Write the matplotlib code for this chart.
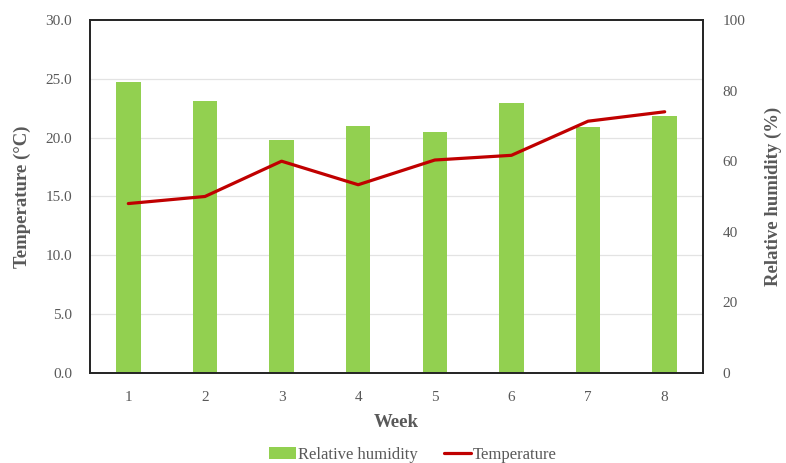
import numpy as np
import matplotlib.pyplot as plt
from matplotlib.ticker import FixedLocator

plt.rcParams['font.family'] = ['Liberation Serif', 'DejaVu Serif']

# donnees
weeks = [1, 2, 3, 4, 5, 6, 7, 8]
humidity = [82.3, 77.0, 65.9, 70.0, 68.3, 76.6, 69.6, 72.8]
temperature = [14.4, 15.0, 18.0, 16.0, 18.1, 18.5, 21.4, 22.2]
temp_ticks = [0, 5, 10, 15, 20, 25, 30]
hum_ticks = [0, 20, 40, 60, 80, 100]

txt = '#595959'
green = '#92D050'
red = '#C00000'

fig = plt.figure(figsize=(7.86, 4.63), dpi=100)
ax = fig.add_axes([0.1145, 0.1944, 0.7799, 0.7624])
ax2 = ax.twinx()

# barres (humidite) derriere, ligne (temperature) devant
ax.set_zorder(2)
ax.patch.set_visible(False)
ax2.set_zorder(1)

bars = ax2.bar(weeks, humidity, width=0.32, color=green, zorder=2,
               label='Relative humidity')
line, = ax.plot(weeks, temperature, color=red, lw=2.3, zorder=3,
                solid_capstyle='round', label='Temperature')

ax.set_ylim(0, 30)
ax2.set_ylim(0, 100)
ax.set_xlim(0.5, 8.5)

ax.set_yticks(temp_ticks)
ax.set_yticklabels([f'{v:.1f}' for v in temp_ticks])
ax2.set_yticks(hum_ticks)
ax.set_xticks(weeks)

# quadrillage sur l'axe des barres pour rester derriere
ax2.yaxis.set_minor_locator(FixedLocator([v * 100 / 30 for v in temp_ticks[1:-1]]))
ax2.grid(True, which='minor', axis='y', color='#e3e3e3', lw=0.9, zorder=0)
ax2.set_axisbelow(True)

for a in (ax, ax2):
    a.tick_params(axis='both', which='both', length=0, labelsize=11,
                  labelcolor=txt)
    for s in a.spines.values():
        s.set_color('#262626')
        s.set_linewidth(1.3)
ax.tick_params(axis='y', pad=13)
ax2.tick_params(axis='y', pad=14)
ax.tick_params(axis='x', pad=13)

ax.set_xlabel('Week', fontsize=13.5, fontweight='bold', color=txt, labelpad=7)
ax.set_ylabel('Temperature (°C)', fontsize=13.5, fontweight='bold', color=txt,
              labelpad=10)
ax2.set_ylabel('Relative humidity (%)', fontsize=13.5, fontweight='bold',
               color=txt, labelpad=14)

fig.legend([bars, line], ['Relative humidity', 'Temperature'],
           loc='center', bbox_to_anchor=(0.525, 0.017), ncol=2, frameon=False,
           fontsize=12, labelcolor=txt, handlelength=1.6, handletextpad=0.1,
           columnspacing=1.6)

plt.savefig('out.png', dpi=100)
